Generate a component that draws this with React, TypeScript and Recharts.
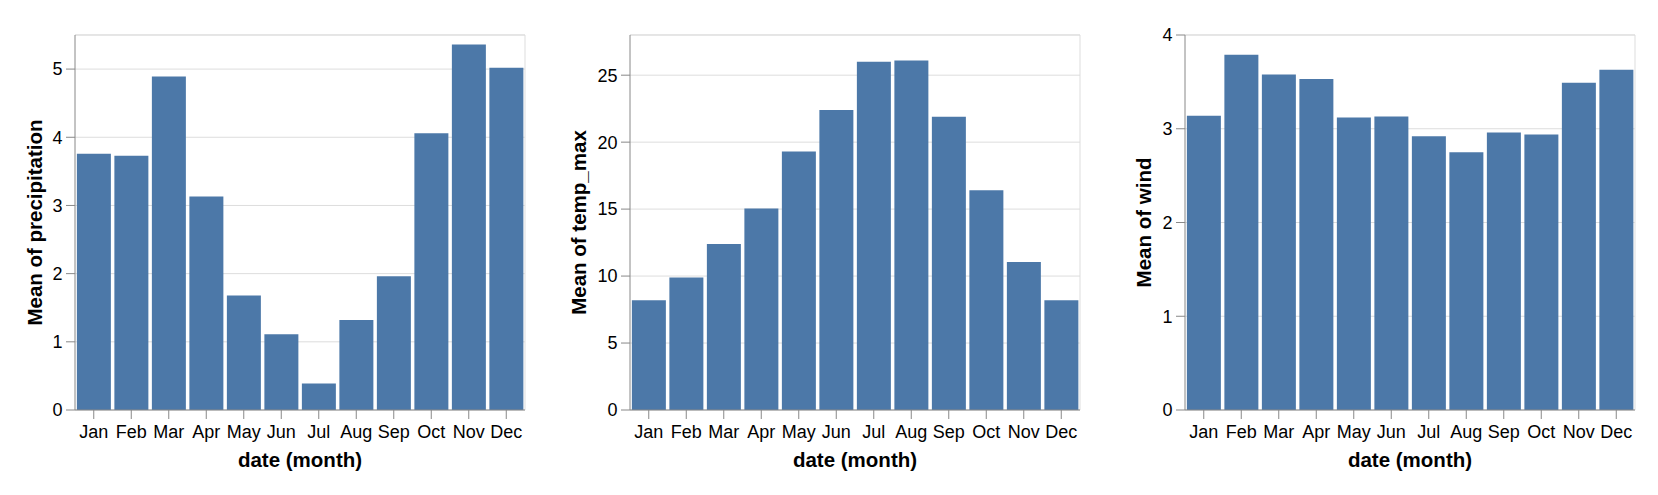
import React from 'react'
import { BarChart, Bar, XAxis, YAxis, CartesianGrid } from 'recharts'

const months = ['Jan', 'Feb', 'Mar', 'Apr', 'May', 'Jun', 'Jul', 'Aug', 'Sep', 'Oct', 'Nov', 'Dec']

const precipitation = [3.76, 3.73, 4.89, 3.13, 1.68, 1.11, 0.39, 1.32, 1.96, 4.06, 5.36, 5.02]
const tempMax = [8.2, 9.9, 12.4, 15.05, 19.3, 22.4, 26.0, 26.1, 21.9, 16.4, 11.05, 8.2]
const wind = [3.14, 3.79, 3.58, 3.53, 3.12, 3.13, 2.92, 2.75, 2.96, 2.94, 3.49, 3.63]

const precipitationTicks = [0, 1, 2, 3, 4, 5]
const tempMaxTicks = [0, 5, 10, 15, 20, 25]
const windTicks = [0, 1, 2, 3, 4]

const FONT = '"Liberation Sans", Arial, Helvetica, sans-serif'
const BLUE = '#4c78a8'
const AXIS = '#888'
const GRID = '#ddd'

const XTitle = (props: any) => {
  const vb = props.viewBox || { x: 0, y: 0, width: 0, height: 0 }
  return (
    <text
      x={vb.x + vb.width / 2}
      y={vb.y + 57}
      textAnchor="middle"
      fontFamily={FONT}
      fontSize={20.5}
      fontWeight="bold"
      fill="#000"
    >
      date (month)
    </text>
  )
}

const YTitle = (props: any) => {
  const vb = props.viewBox || { x: 0, y: 0, width: 0, height: 0 }
  const cx = vb.x + vb.width - props.dist
  const cy = vb.y + vb.height / 2
  return (
    <text
      x={cx}
      y={cy}
      transform={`rotate(-90, ${cx}, ${cy})`}
      textAnchor="middle"
      dominantBaseline="central"
      fontFamily={FONT}
      fontSize={20.5}
      fontWeight="bold"
      fill="#000"
    >
      {props.title}
    </text>
  )
}

type PanelProps = {
  values: number[]
  ticks: number[]
  yMax: number
  title: string
  left: number
  titleDist: number
}

const Panel = ({ values, ticks, yMax, title, left, titleDist }: PanelProps) => {
  const rows = months.map((m, i) => ({ month: m, value: values[i] }))
  return (
    <div style={{ position: 'absolute', left, top: 0 }}>
      <BarChart
        width={525}
        height={495}
        data={rows}
        margin={{ top: 35, right: 5, bottom: 25, left: 0 }}
        barCategoryGap="5%"
      >
        <CartesianGrid vertical={false} stroke={GRID} />
        <CartesianGrid
          stroke={GRID}
          horizontalCoordinatesGenerator={({ offset }: any) => [offset.top]}
          verticalCoordinatesGenerator={({ offset }: any) => [offset.left + offset.width]}
        />
        <Bar dataKey="value" fill={BLUE} isAnimationActive={false} />
        <XAxis
          dataKey="month"
          height={60}
          interval={0}
          tickSize={9}
          tickMargin={6.5}
          stroke={AXIS}
          tick={{ fill: '#000', fontSize: 18, fontFamily: FONT }}
          label={{ content: (p: any) => <XTitle {...p} /> }}
        />
        <YAxis
          type="number"
          domain={[0, yMax]}
          ticks={ticks}
          width={70}
          tickSize={9}
          tickMargin={3.5}
          stroke={AXIS}
          tick={{ fill: '#000', fontSize: 18, fontFamily: FONT }}
          label={{ content: (p: any) => <YTitle {...p} title={title} dist={titleDist} /> }}
        />
      </BarChart>
    </div>
  )
}

export default function App() {
  return (
    <div
      style={{
        position: 'absolute',
        left: 0,
        top: 0,
        width: 1658,
        height: 495,
        background: '#fff',
        overflow: 'hidden',
      }}
    >
      <Panel values={precipitation} ticks={precipitationTicks} yMax={5.5} title="Mean of precipitation" left={4.5} titleDist={40.6} />
      <Panel values={tempMax} ticks={tempMaxTicks} yMax={28} title="Mean of temp_max" left={559.5} titleDist={51.7} />
      <Panel values={wind} ticks={windTicks} yMax={4} title="Mean of wind" left={1114.5} titleDist={41.6} />
    </div>
  )
}
